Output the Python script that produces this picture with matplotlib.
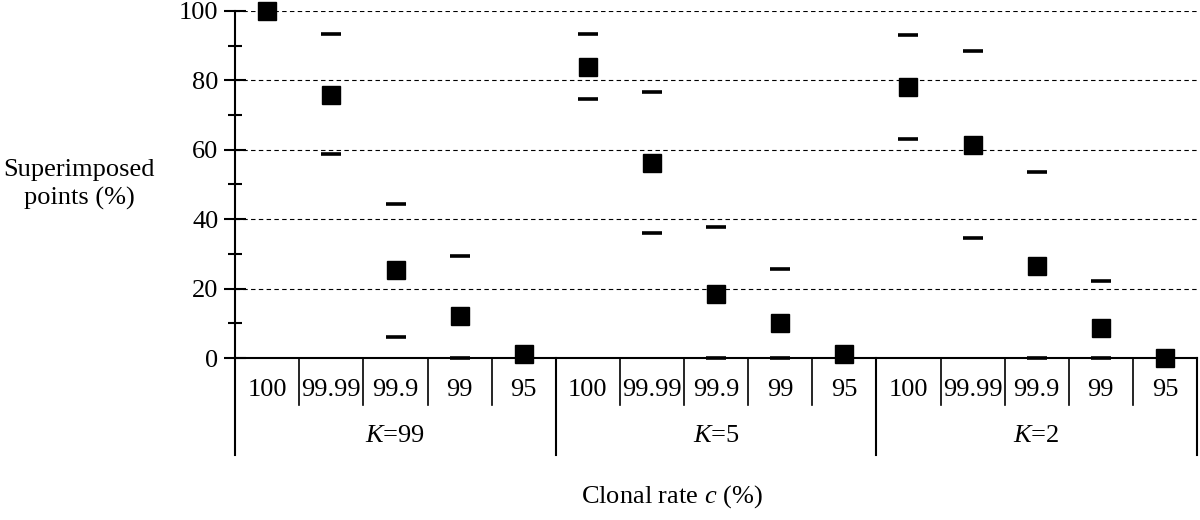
import numpy as np
import matplotlib.pyplot as plt
import matplotlib.transforms as mtransforms

plt.rcParams['font.family'] = ['Liberation Serif', 'DejaVu Serif']
plt.rcParams['mathtext.fontset'] = 'custom'
plt.rcParams['mathtext.it'] = 'Liberation Serif:italic'
plt.rcParams['mathtext.rm'] = 'Liberation Serif'

# data
rates = ['100', '99.99', '99.9', '99', '95']
groups = ['99', '5', '2']
mean_pts = [100, 75.8, 25.3, 12.1, 1.2,
            83.9, 56.2, 18.4, 10.1, 1.2,
            78.1, 61.5, 26.5, 8.7, 0.0]
upper = [np.nan, 93.4, 44.4, 29.5, np.nan,
         93.4, 76.7, 37.8, 25.6, np.nan,
         93.1, 88.5, 53.7, 22.3, np.nan]
lower = [np.nan, 58.8, 6.0, 0.0, np.nan,
         74.6, 36.0, 0.0, 0.0, np.nan,
         63.1, 34.6, 0.0, 0.0, np.nan]

n = len(mean_pts)
x = np.arange(n)
fs = 19

fig = plt.figure(figsize=(12, 5.2), dpi=100)
ax = fig.add_axes([0.196, 0.3115, 0.8015, 0.6675])

ax.plot(x, upper, ls='none', marker='_', ms=14, mew=2.6, color='black', clip_on=False, zorder=3)
ax.plot(x, lower, ls='none', marker='_', ms=14, mew=2.6, color='black', clip_on=False, zorder=3)
ax.plot(x, mean_pts, ls='none', marker='s', ms=13.5, color='black', clip_on=False, zorder=4)

ax.set_ylim(0, 100)
ax.set_xlim(-0.5, n - 0.5)
ax.set_yticks([0, 20, 40, 60, 80, 100])
ax.set_yticks(np.arange(10, 100, 20), minor=True)
ax.tick_params(axis='y', which='major', direction='inout', length=16, width=1.5, labelsize=fs, pad=4)
ax.tick_params(axis='y', which='minor', direction='inout', length=10, width=1.5)
ax.set_xticks([])
for y in [20, 40, 60, 80, 100]:
    ax.axhline(y, color='black', lw=0.8, ls=(0, (4, 3)), zorder=1)

for s in ['top', 'right']:
    ax.spines[s].set_visible(False)
ax.spines['left'].set_linewidth(1.5)
ax.spines['bottom'].set_linewidth(1.5)

# multi-level category axis below the plot
trans = mtransforms.blended_transform_factory(ax.transData, ax.transAxes)
for i in range(n + 1):
    xb = i - 0.5
    if i % len(rates) == 0:
        ax.plot([xb, xb], [0, -0.28], color='black', lw=1.5, transform=trans, clip_on=False)
    else:
        ax.plot([xb, xb], [0, -0.135], color='black', lw=1.2, transform=trans, clip_on=False)
for i in range(n):
    ax.text(i, -0.092, rates[i % len(rates)], transform=trans, ha='center', va='center', fontsize=fs)
for g, name in enumerate(groups):
    xc = g * len(rates) + (len(rates) - 1) / 2
    ax.text(xc, -0.225, r'$K$=' + name, transform=trans, ha='center', va='center', fontsize=fs)

fig.text(0.066, 0.645, 'Superimposed\npoints (%)', ha='center', va='center', fontsize=fs, linespacing=1.3)
fig.text(0.56, 0.045, 'Clonal rate $c$ (%)', ha='center', va='center', fontsize=fs)

plt.savefig('out.png', dpi=100)
